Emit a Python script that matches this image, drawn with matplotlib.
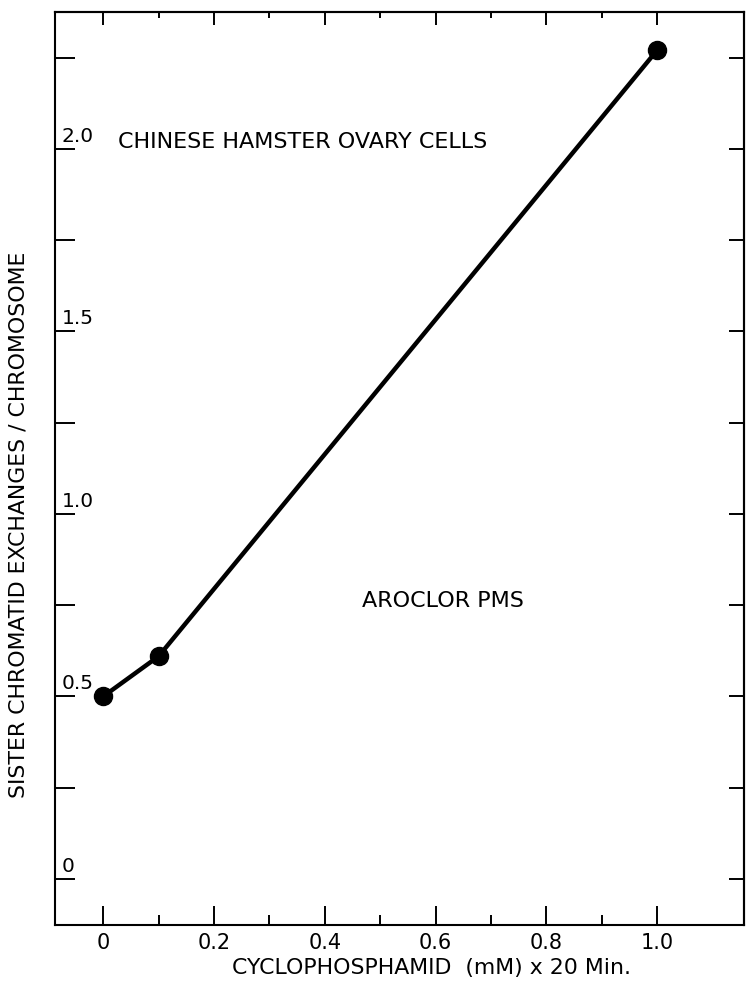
import matplotlib
matplotlib.use("Agg")
import matplotlib.pyplot as plt
import numpy as np

# ---- data ----
dose = [0.0, 0.1, 1.0]
sce = [0.50, 0.61, 2.27]

xtick_major = [0.0, 0.2, 0.4, 0.6, 0.8, 1.0]
xtick_labels = ["0", "0.2", "0.4", "0.6", "0.8", "1.0"]
xtick_minor = [0.1, 0.3, 0.5, 0.7, 0.9]
ytick_all = [0.0, 0.25, 0.5, 0.75, 1.0, 1.25, 1.5, 1.75, 2.0, 2.25]
ytick_labeled = [0.0, 0.5, 1.0, 1.5, 2.0]
ytick_labels = ["0", "0.5", "1.0", "1.5", "2.0"]

title_text = "CHINESE HAMSTER OVARY CELLS"
sub_text = "AROCLOR PMS"
xlabel = "CYCLOPHOSPHAMID  (mM) x 20 Min."
ylabel = "SISTER CHROMATID EXCHANGES / CHROMOSOME"

plt.rcParams['font.family'] = ['DejaVu Sans']

fig = plt.figure(figsize=(7.46, 9.87), dpi=100)
ax = fig.add_axes([55/746, 1-926/987, (744-55)/746, (926-13)/987])

ax.plot(dose, sce, color='black', lw=3.2, marker='o', markersize=13,
        solid_capstyle='round', zorder=3, clip_on=False)

ax.set_xlim(-0.087, 1.157)
ax.set_ylim(-0.126, 2.375)

for s in ax.spines.values():
    s.set_linewidth(1.5)

# bottom x ticks
ax.set_xticks(xtick_major)
ax.set_xticklabels(xtick_labels, fontsize=15)
ax.set_xticks(xtick_minor, minor=True)
ax.tick_params(axis='x', which='major', direction='in', length=13.5, width=1.4,
               pad=5, top=False, bottom=True)
ax.tick_params(axis='x', which='minor', direction='in', length=7, width=1.4,
               top=False, bottom=True)

# left y ticks (labels drawn inside)
ax.set_yticks(ytick_all)
ax.set_yticklabels([])
ax.tick_params(axis='y', which='major', direction='in', length=14.5, width=1.4,
               left=True, right=False)
for v, lab in zip(ytick_labeled, ytick_labels):
    ax.annotate(lab, xy=(0.0, v), xycoords=('axes fraction', 'data'),
                xytext=(5, 10), textcoords='offset points',
                ha='left', va='center', fontsize=14.5)

# top ticks
top = ax.secondary_xaxis('top')
top.set_xticks(xtick_major)
top.set_xticklabels([])
top.set_xticks(xtick_minor, minor=True)
top.tick_params(axis='x', which='major', direction='in', length=9, width=1.4)
top.tick_params(axis='x', which='minor', direction='in', length=4, width=1.4)
top.spines['top'].set_linewidth(1.5)

# right ticks
right = ax.secondary_yaxis('right')
right.set_yticks(ytick_all)
right.set_yticklabels([])
right.tick_params(axis='y', which='major', direction='in', length=11, width=1.4)
right.spines['right'].set_linewidth(1.5)

ax.text((118-55)/689, (926-142)/913, title_text, transform=ax.transAxes,
        ha='left', va='center', fontsize=16)
ax.text((362-55)/689, (926-601)/913, sub_text, transform=ax.transAxes,
        ha='left', va='center', fontsize=16)

ax.set_xlabel(xlabel, fontsize=15.8)
ax.xaxis.set_label_coords((432-55)/689, (926-968)/913)
ax.xaxis.label.set_va('center')
ax.set_ylabel(ylabel, fontsize=15.8, va='center')
ax.yaxis.set_label_coords((19-55)/689, (926-525)/913)

fig.savefig("out.png", dpi=100)
